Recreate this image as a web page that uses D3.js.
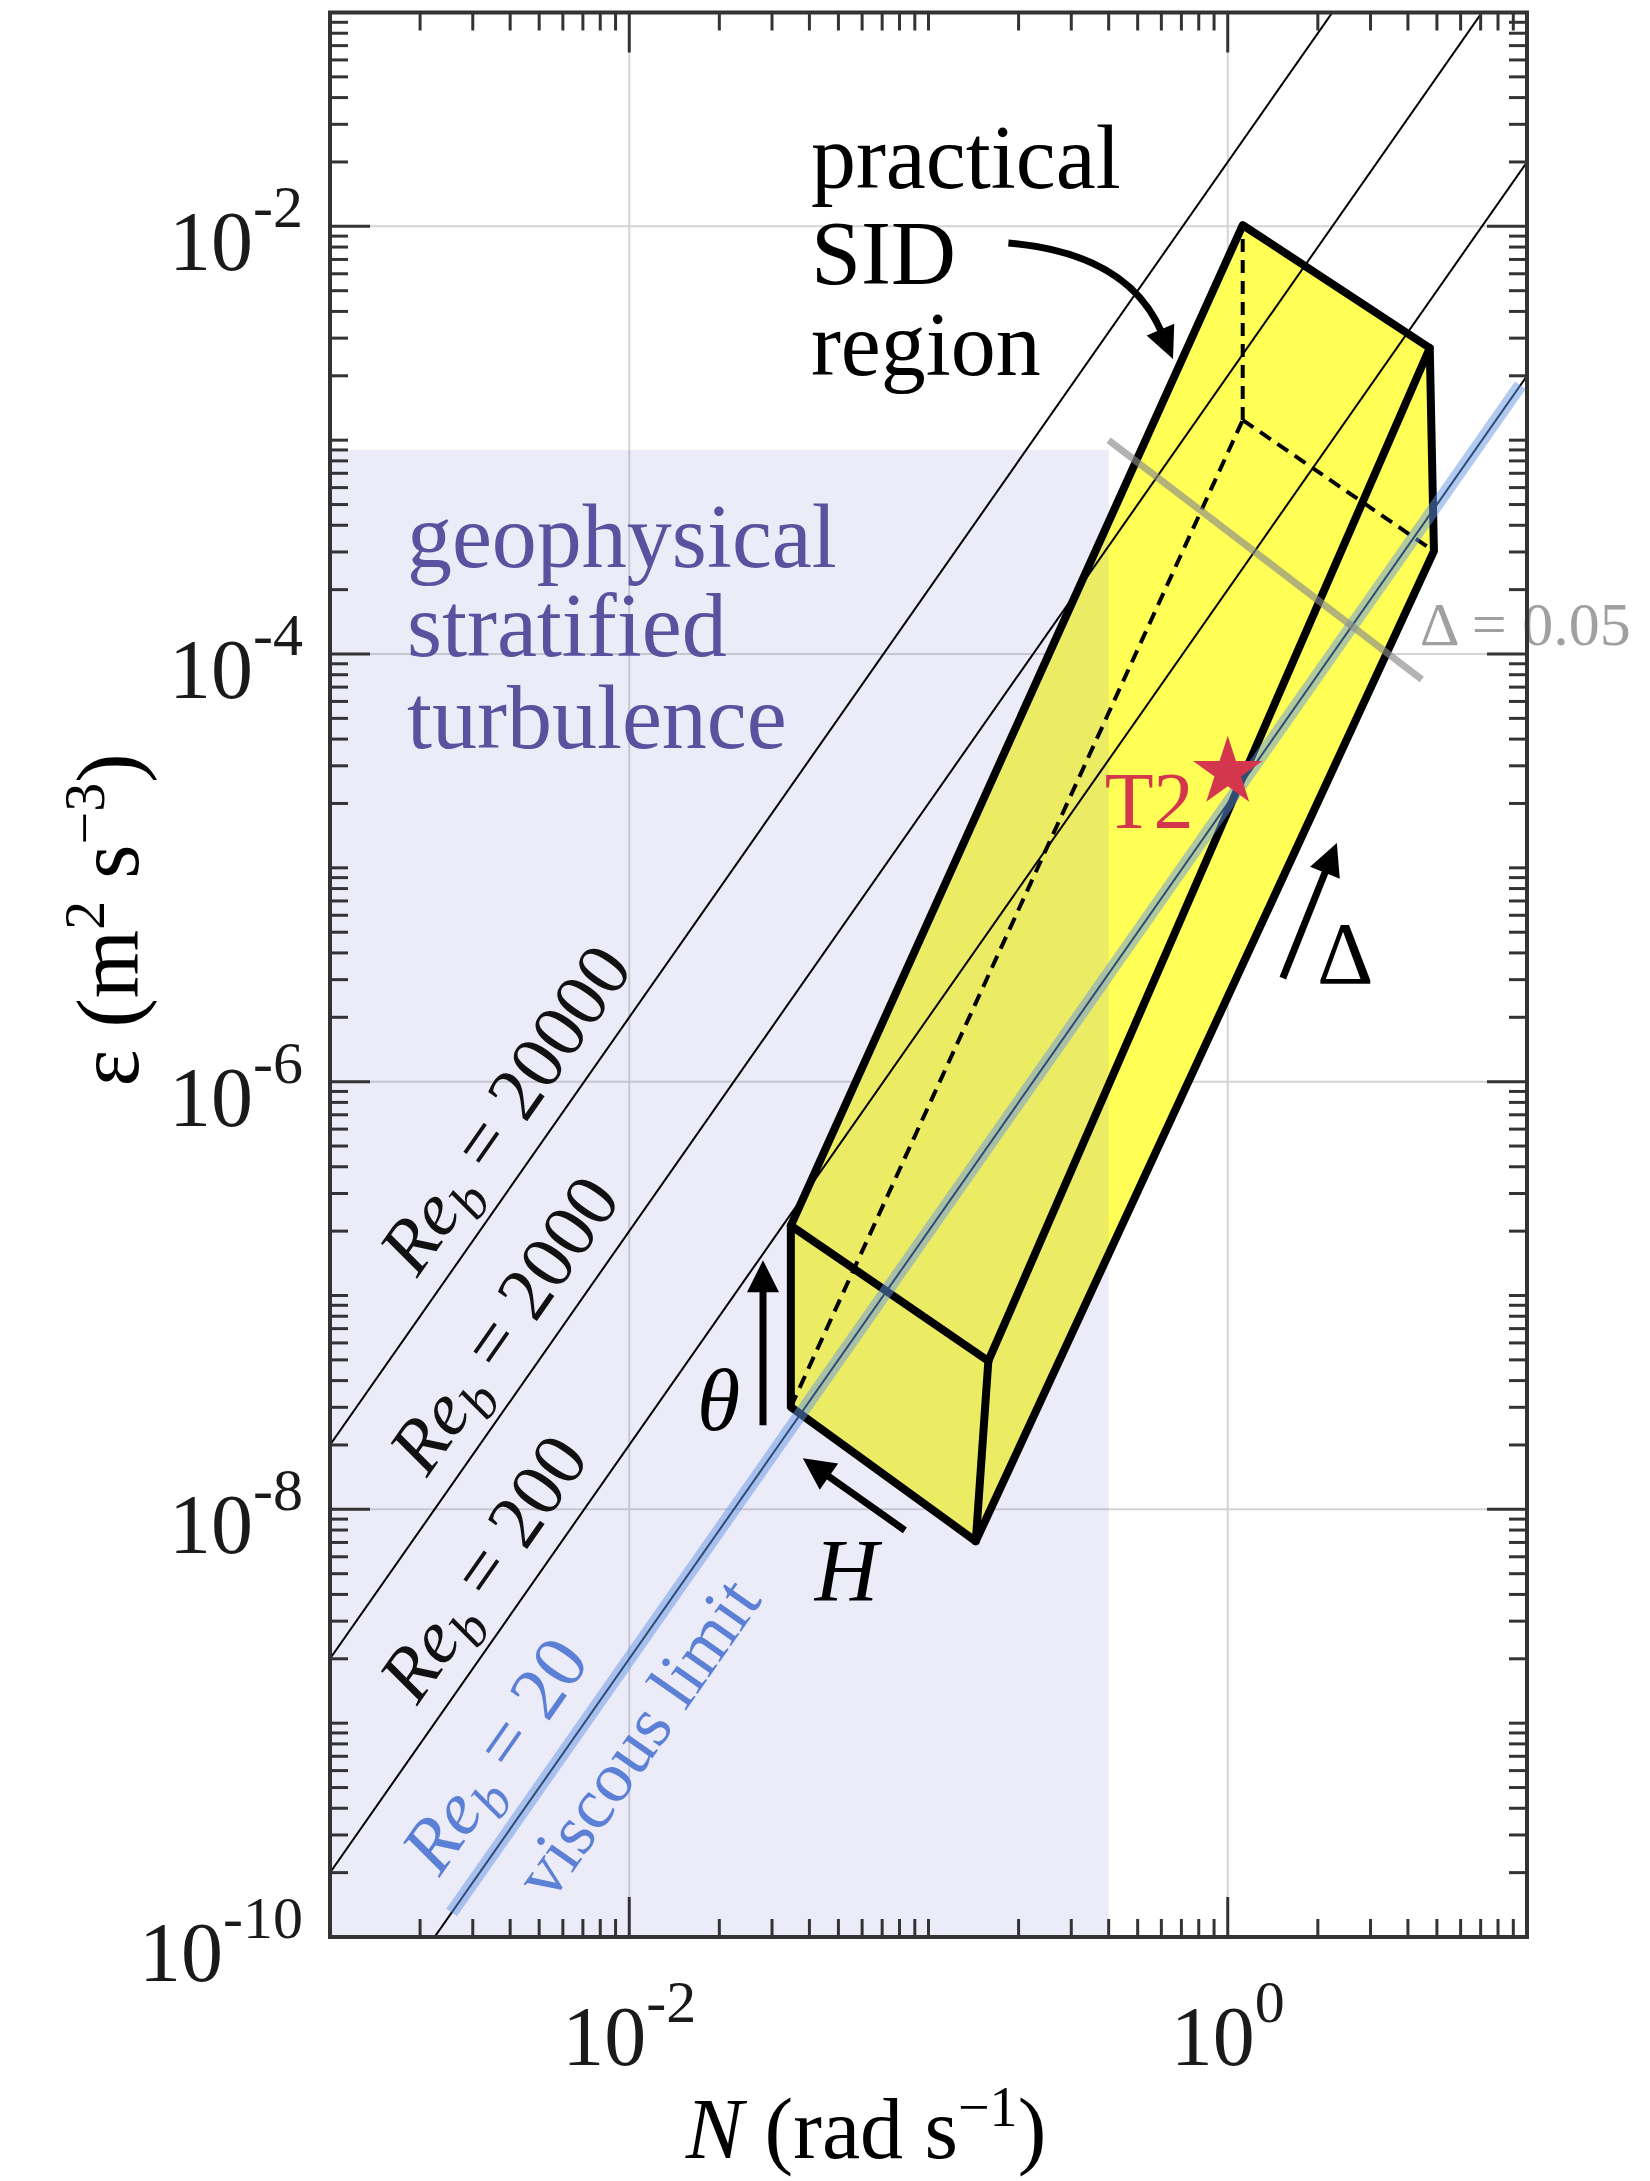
<!DOCTYPE html>
<html>
<head>
<meta charset="utf-8">
<script src="https://cdn.jsdelivr.net/npm/d3@7"></script>
<style>
  html, body { margin: 0; padding: 0; background: #fff; }
  svg { display: block; font-family: "Liberation Serif", "Times New Roman", serif; }
</style>
</head>
<body>
<svg id="chart" width="1650" height="2181"></svg>
<script>
'use strict';

// axis ranges and labelled decades
var xDomain = [1e-3, 1e1];
var yDomain = [1e-10, 1e-1];
var xLabelExps = [-2, 0];
var yLabelExps = [-10, -8, -6, -4, -2];

// buoyancy Reynolds number lines, Re_b = eps / (nu N^2)
var nu = 1e-6;
var reValues = [20, 200, 2000, 20000];
var reLabelStartLogN = [-2.552, -2.643, -2.61, -2.643];
var viscousBandN = [2.55e-3, 9.5];
var viscousLabelStartLogN = -2.47;

// geophysical stratified turbulence region
var geoN = [1e-3, 0.4];
var geoEps = [1e-10, 9e-4];

// practical SID region prism (log10 N, log10 eps)
// 0 front-top-left, 1 front-bottom-left, 2 front-top-right, 3 front-bottom-right,
// 4 back-top-left, 5 back-top-right, 6 back-bottom-right, 7 back-bottom-left (hidden)
var boxLogN = [-1.46, -1.46, -0.80, -0.842, 0.05, 0.675, 0.689, 0.05];
var boxLogEps = [-6.673, -7.521, -7.306, -8.149, -1.994, -2.569, -3.519, -2.906];
var boxOutline = [1, 0, 4, 5, 6, 3];
var boxSolidEdges = [[0, 2], [2, 3], [2, 5]];
var boxDashedEdges = [[1, 7], [7, 4], [7, 6]];

// Delta = 0.05 line
var deltaLineN = [0.4, 4.45];
var deltaLineEps = [1e-3, 7.6e-5];

// T2 case
var t2N = [1.0];
var t2Eps = [2.8e-5];

var W = 1650, H = 2181;
var margin = {top: 12.5, right: 123, bottom: 244, left: 330};

var svg = d3.select('#chart');
var x = d3.scaleLog().domain(xDomain).range([margin.left, W - margin.right]);
var y = d3.scaleLog().domain(yDomain).range([H - margin.bottom, margin.top]);
var pt = function (lnN, lnE) { return [x(Math.pow(10, lnN)), y(Math.pow(10, lnE))]; };
var isDecade = function (t) { var l = Math.log10(t); return Math.abs(l - Math.round(l)) < 1e-9; };

var x0 = x.range()[0], x1 = x.range()[1], yB = y.range()[0], yT = y.range()[1];

svg.append('rect').attr('width', W).attr('height', H).attr('fill', '#fff');
svg.append('defs').append('clipPath').attr('id', 'plotClip').append('rect')
    .attr('x', x0).attr('y', yT).attr('width', x1 - x0).attr('height', yB - yT);

var plot = svg.append('g').attr('clip-path', 'url(#plotClip)');

// grid
plot.selectAll('line.gx').data(xLabelExps).enter().append('line')
    .attr('x1', function (e) { return x(Math.pow(10, e)); })
    .attr('x2', function (e) { return x(Math.pow(10, e)); })
    .attr('y1', yT).attr('y2', yB)
    .attr('stroke', '#d4d4d4').attr('stroke-width', 2);
plot.selectAll('line.gy').data(yLabelExps.slice(1)).enter().append('line')
    .attr('y1', function (e) { return y(Math.pow(10, e)); })
    .attr('y2', function (e) { return y(Math.pow(10, e)); })
    .attr('x1', x0).attr('x2', x1)
    .attr('stroke', '#d4d4d4').attr('stroke-width', 2);

// prism faces
var boxPts = boxLogN.map(function (n, i) { return pt(n, boxLogEps[i]); });
plot.append('path')
    .attr('d', d3.line()(boxOutline.map(function (i) { return boxPts[i]; })) + 'Z')
    .attr('fill', '#ffff55');

// lavender region drawn over the faces
plot.append('rect')
    .attr('x', x(geoN[0])).attr('y', y(geoEps[1]))
    .attr('width', x(geoN[1]) - x(geoN[0]))
    .attr('height', y(geoEps[0]) - y(geoEps[1]))
    .attr('fill', 'rgb(110,100,200)').attr('fill-opacity', 0.13);

// prism edges
plot.append('path')
    .attr('d', d3.line()(boxOutline.map(function (i) { return boxPts[i]; })) + 'Z')
    .attr('fill', 'none').attr('stroke', '#000').attr('stroke-width', 8)
    .attr('stroke-linejoin', 'round');
plot.selectAll('line.solid').data(boxSolidEdges).enter().append('line')
    .attr('x1', function (d) { return boxPts[d[0]][0]; })
    .attr('y1', function (d) { return boxPts[d[0]][1]; })
    .attr('x2', function (d) { return boxPts[d[1]][0]; })
    .attr('y2', function (d) { return boxPts[d[1]][1]; })
    .attr('stroke', '#000').attr('stroke-width', 8).attr('stroke-linecap', 'round');
plot.selectAll('line.dash').data(boxDashedEdges).enter().append('line')
    .attr('x1', function (d) { return boxPts[d[0]][0]; })
    .attr('y1', function (d) { return boxPts[d[0]][1]; })
    .attr('x2', function (d) { return boxPts[d[1]][0]; })
    .attr('y2', function (d) { return boxPts[d[1]][1]; })
    .attr('stroke', '#000').attr('stroke-width', 4).attr('stroke-dasharray', '13,8');

// Re_b lines
var reLine = function (re) {
    return d3.line()(xDomain.map(function (n) { return [x(n), y(re * nu * n * n)]; }));
};
plot.selectAll('path.re').data(reValues).enter().append('path')
    .attr('d', reLine)
    .attr('fill', 'none').attr('stroke', '#000').attr('stroke-width', 2);

// viscous limit band
plot.append('path')
    .attr('d', d3.line()(viscousBandN.map(function (n) { return [x(n), y(reValues[0] * nu * n * n)]; })))
    .attr('stroke', 'rgb(100,150,230)').attr('stroke-opacity', 0.5).attr('stroke-width', 13)
    .attr('fill', 'none');

// Delta = 0.05 line
plot.append('path')
    .attr('d', d3.line()(deltaLineN.map(function (n, i) { return [x(n), y(deltaLineEps[i])]; })))
    .attr('stroke', '#8a8a8a').attr('stroke-opacity', 0.65).attr('stroke-width', 7)
    .attr('fill', 'none');

// T2 star
svg.selectAll('path.t2').data(t2N).enter().append('path')
    .attr('d', d3.symbol(d3.symbolStar).size(1500))
    .attr('transform', function (d, i) { return 'translate(' + x(d) + ',' + y(t2Eps[i]) + ')'; })
    .attr('fill', '#d3364d');

// ---------- annotations ----------
var ann = svg.append('g');

var txt = function (p, size, fill) {
    return ann.append('text').attr('x', p[0]).attr('y', p[1])
        .attr('font-size', size).attr('fill', fill || '#000');
};

// stacked lines in one text element
var block = function (lnN, baseLogEps, lines, size, fill) {
    var p0 = pt(lnN, baseLogEps[0]);
    var t = txt(p0, size, fill);
    lines.forEach(function (s, i) {
        var yy = pt(lnN, baseLogEps[i])[1];
        t.append('tspan').attr('x', p0[0]).attr('y', yy).text(s);
    });
    return t;
};

// rotated Re_b labels along the lines
var dirA = [x(1), y(1e-4)], dirB = [x(10), y(1e-2)];
var dl = Math.hypot(dirB[0] - dirA[0], dirB[1] - dirA[1]);
var ux = (dirB[0] - dirA[0]) / dl, uy = (dirB[1] - dirA[1]) / dl;
var angle = Math.atan2(uy, ux) * 180 / Math.PI;

var reLabel = function (re, startLogN, offset, color, size) {
    var n0 = Math.pow(10, startLogN);
    var px = x(n0) + uy * offset, py = y(re * nu * n0 * n0) - ux * offset;
    return ann.append('text')
        .attr('transform', 'translate(' + px + ',' + py + ') rotate(' + angle + ')')
        .attr('font-size', size).attr('fill', color);
};
reValues.forEach(function (re, i) {
    var blue = i === 0;
    var t = reLabel(re, reLabelStartLogN[i], blue ? 30 : 24, blue ? '#5b80d6' : '#111', 76);
    t.append('tspan').attr('font-style', 'italic').text('Re');
    t.append('tspan').attr('font-style', 'italic').attr('font-size', 55).attr('dy', 17).text('b');
    t.append('tspan').attr('dy', -17).text(' = ' + re);
});
reLabel(reValues[0], viscousLabelStartLogN, -76, '#5b80d6', 72).text('viscous limit');

// region texts
block(-2.743, [-3.594, -4.010, -4.440], ['geophysical', 'stratified', 'turbulence'], 90, '#5a529e');
block(-1.393, [-1.819, -2.268, -2.696], ['practical', 'SID', 'region'], 90, '#000');

txt(pt(-0.411, -4.814), 80, '#d3364d').text('T2');
txt(pt(0.642, -3.958), 62, '#a0a0a0').text('\u0394 = 0.05');
txt(pt(-1.774, -7.630), 88).attr('font-style', 'italic').text('\u03b8');
txt(pt(-1.380, -8.425), 88).attr('font-style', 'italic').text('H');
txt(pt(0.298, -5.539), 88).text('\u0394');

// arrows
var head = function (tip, vx, vy, hl, hw) {
    var bx = tip[0] - vx * hl, by = tip[1] - vy * hl;
    ann.append('path')
        .attr('d', 'M' + tip[0] + ',' + tip[1] +
            'L' + (bx - vy * hw / 2) + ',' + (by + vx * hw / 2) +
            'L' + (bx + vy * hw / 2) + ',' + (by - vx * hw / 2) + 'Z')
        .attr('fill', '#000');
    return [bx + vx * 3, by + vy * 3];
};
var arrow = function (p0, p1) {
    var dx = p1[0] - p0[0], dy = p1[1] - p0[1], L = Math.hypot(dx, dy);
    var b = head(p1, dx / L, dy / L, 32, 32);
    ann.append('line').attr('x1', p0[0]).attr('y1', p0[1]).attr('x2', b[0]).attr('y2', b[1])
        .attr('stroke', '#000').attr('stroke-width', 7);
};
arrow(pt(-1.553, -7.607), pt(-1.553, -6.835));   // theta
arrow(pt(-1.079, -8.098), pt(-1.420, -7.761));   // H
arrow(pt(0.184, -5.516), pt(0.3645, -4.884));    // Delta

// curved arrow to the SID region
var c0 = pt(-0.733, -2.078), cc = pt(-0.334, -2.125), c2 = pt(-0.183, -2.621);
var cvx = c2[0] - cc[0], cvy = c2[1] - cc[1], cl = Math.hypot(cvx, cvy);
var cb = head(c2, cvx / cl, cvy / cl, 32, 30);
ann.append('path')
    .attr('d', 'M' + c0[0] + ',' + c0[1] + 'Q' + cc[0] + ',' + cc[1] + ' ' + cb[0] + ',' + cb[1])
    .attr('fill', 'none').attr('stroke', '#000').attr('stroke-width', 7);

// ---------- frame, ticks, labels ----------
var axes = svg.append('g');
axes.append('rect').attr('x', x0).attr('y', yT).attr('width', x1 - x0).attr('height', yB - yT)
    .attr('fill', 'none').attr('stroke', '#333').attr('stroke-width', 4);

var tickLen = function (t, exps) {
    return isDecade(t) && exps.indexOf(Math.round(Math.log10(t))) >= 0 ? 40 : 18;
};
var xt = x.ticks().filter(function (t) { return x(t) > x0 + 1 && x(t) < x1 - 1; });
var yt = y.ticks().filter(function (t) { return y(t) < yB - 1 && y(t) > yT + 1; });

xt.forEach(function (t) {
    var L = tickLen(t, xLabelExps);
    axes.append('line').attr('x1', x(t)).attr('x2', x(t)).attr('y1', yB).attr('y2', yB - L);
    axes.append('line').attr('x1', x(t)).attr('x2', x(t)).attr('y1', yT).attr('y2', yT + L);
});
yt.forEach(function (t) {
    var L = tickLen(t, yLabelExps);
    axes.append('line').attr('y1', y(t)).attr('y2', y(t)).attr('x1', x0).attr('x2', x0 + L);
    axes.append('line').attr('y1', y(t)).attr('y2', y(t)).attr('x1', x1).attr('x2', x1 - L);
});
axes.selectAll('line').attr('stroke', '#333').attr('stroke-width', 3);

xLabelExps.forEach(function (e) {
    var t = axes.append('text').attr('x', x(Math.pow(10, e))).attr('y', yB + 128)
        .attr('text-anchor', 'middle').attr('font-size', 84).attr('fill', '#1a1a1a');
    t.append('tspan').text('10');
    t.append('tspan').attr('font-size', 60).attr('dy', -43).text(String(e));
});
yLabelExps.forEach(function (e) {
    var t = axes.append('text').attr('x', x0 - 27).attr('y', y(Math.pow(10, e)) + 44)
        .attr('text-anchor', 'end').attr('font-size', 84).attr('fill', '#1a1a1a');
    t.append('tspan').text('10');
    t.append('tspan').attr('font-size', 60).attr('dy', -43).text(String(e));
});

// axis titles
var xt1 = axes.append('text').attr('x', 866).attr('y', 2158).attr('text-anchor', 'middle')
    .attr('font-size', 86).attr('fill', '#000');
xt1.append('tspan').attr('font-style', 'italic').text('N');
xt1.append('tspan').text(' (rad s');
xt1.append('tspan').attr('font-size', 56).attr('dy', -32).text('\u22121');
xt1.append('tspan').attr('dy', 32).text(')');

var yt1 = axes.append('text').attr('transform', 'translate(138,920) rotate(-90)')
    .attr('text-anchor', 'middle').attr('font-size', 88).attr('fill', '#000');
yt1.append('tspan').text('\u03b5 (m');
yt1.append('tspan').attr('font-size', 58).attr('dy', -34).text('2');
yt1.append('tspan').attr('dy', 34).text(' s');
yt1.append('tspan').attr('font-size', 58).attr('dy', -34).text('\u22123');
yt1.append('tspan').attr('dy', 34).text(')');
</script>
</body>
</html>
